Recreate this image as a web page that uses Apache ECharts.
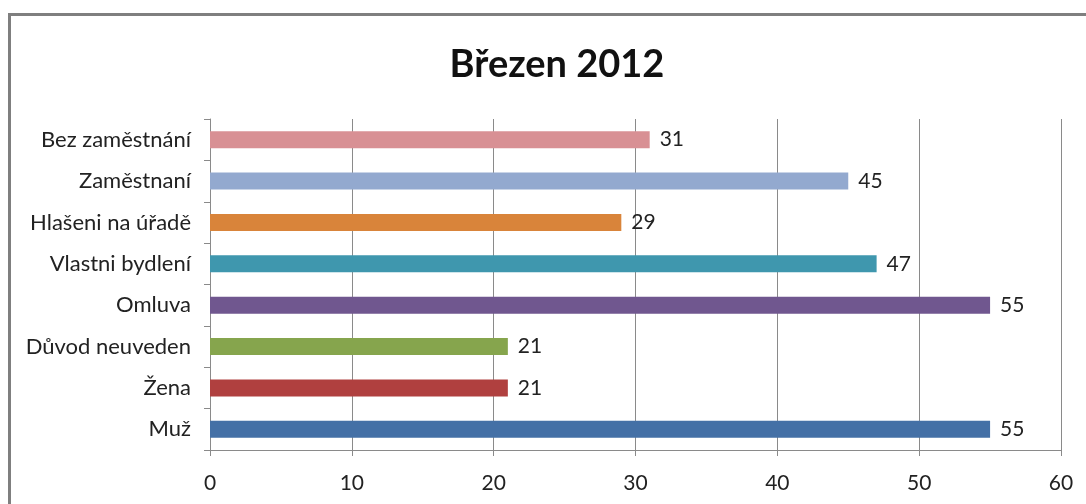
<!DOCTYPE html>
<html>
<head>
<meta charset="utf-8">
<script src="https://cdn.jsdelivr.net/npm/echarts@6/dist/echarts.min.js"></script>
<style>
html,body{margin:0;padding:0;background:#fff;}
#frame{position:absolute;left:8px;top:13px;width:1100px;height:520px;border-left:3px solid #7f7f7f;border-top:3px solid #7f7f7f;box-sizing:border-box;}
#chart{position:absolute;left:0;top:0;width:1086px;height:504px;}
</style>
</head>
<body>
<div id="frame"></div>
<div id="chart"></div>
<script>
var title = 'Březen 2012';
var categories = ['Muž', 'Žena', 'Důvod neuveden', 'Omluva', 'Vlastni bydlení', 'Hlašeni na úřadě', 'Zaměstnaní', 'Bez zaměstnání'];
var values = [55, 21, 21, 55, 47, 29, 45, 31];
var barColors = ['#4470a6', '#b0403f', '#86a54d', '#70578f', '#3f97ae', '#d9843a', '#93a9cf', '#d89094'];
var xTicks = [0, 10, 20, 30, 40, 50, 60];

var chart = echarts.init(document.getElementById('chart'), null, {renderer: 'canvas'});
chart.setOption({
  backgroundColor: 'transparent',
  animation: false,
  title: {
    text: title,
    left: 552,
    top: 41,
    textAlign: 'center',
    textStyle: {fontFamily: 'Lato', fontWeight: 'bold', fontSize: 38, color: '#111'}
  },
  grid: {left: 210, right: 25, top: 119, bottom: 54, containLabel: false},
  xAxis: {
    type: 'value',
    min: xTicks[0],
    max: xTicks[xTicks.length - 1],
    interval: 10,
    axisLine: {show: true, lineStyle: {color: '#8a8a8a', width: 1}},
    axisTick: {show: true, length: 6, lineStyle: {color: '#8a8a8a'}},
    splitLine: {show: true, lineStyle: {color: '#8a8a8a', width: 1}},
    axisLabel: {fontFamily: 'Lato', fontSize: 21, color: '#222', margin: 23}
  },
  yAxis: {
    type: 'category',
    data: categories,
    axisLine: {show: true, lineStyle: {color: '#8a8a8a', width: 1}},
    axisTick: {show: true, length: 6, lineStyle: {color: '#8a8a8a'}},
    axisLabel: {fontFamily: 'Lato', fontSize: 22, color: '#222', margin: 19}
  },
  series: [{
    type: 'bar',
    data: values.map(function (v, i) { return {value: v, itemStyle: {color: barColors[i]}}; }),
    barWidth: '41%',
    label: {show: true, position: 'right', distance: 10, fontFamily: 'Lato', fontSize: 21, color: '#222'}
  }]
});
</script>
</body>
</html>
